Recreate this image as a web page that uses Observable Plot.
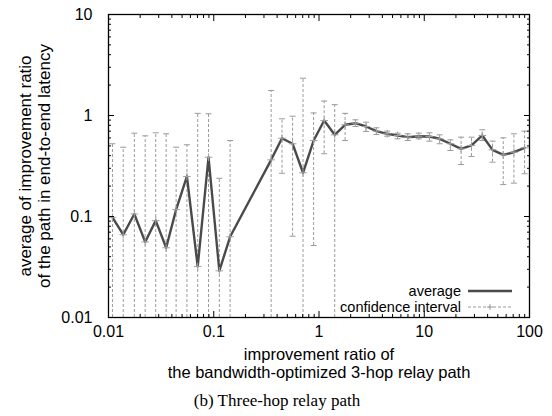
<!DOCTYPE html>
<html><head><meta charset="utf-8">
<script src="https://cdn.jsdelivr.net/npm/d3@7"></script>
<script src="https://cdn.jsdelivr.net/npm/@observablehq/plot@0.6"></script>
<style>
body{margin:0;background:#fff}
#wrap{position:relative;width:552px;height:416px}
#legend{position:absolute;left:280px;top:283px;width:233px;font-family:'Liberation Sans',Arial,sans-serif;font-size:14.5px;color:#000}
#legend .row{display:flex;align-items:center;justify-content:flex-end;height:16px;line-height:16px}
#legend svg{margin-left:6px}
</style>
</head><body><div id="wrap"></div>
<script>
// improvement ratio (bandwidth-optimized 3-hop relay path)
const ratio = [0.0109,0.0138,0.0176,0.0223,0.0281,0.0353,0.0439,0.0556,0.0704,0.0892,0.113,0.143,
  0.351,0.445,0.561,0.705,0.889,1.12,1.41,1.77,2.22,2.80,3.51,4.44,5.58,6.97,8.87,11.2,14.0,17.7,22.4,28.1,35.6,44.5,56.3,71.1,89.8];
// average improvement ratio in end-to-end latency
const average = [0.098,0.066,0.106,0.056,0.091,0.049,0.117,0.249,0.032,0.386,0.029,0.063,
  0.364,0.596,0.525,0.271,0.565,0.891,0.644,0.809,0.839,0.778,0.700,0.659,0.634,0.610,0.624,0.619,0.588,0.525,0.468,0.505,0.634,0.457,0.408,0.433,0.479];
// confidence interval upper / lower bounds (lower bounds at 0.01 run below the axis)
const ciHigh = [0.525,0.485,0.668,0.629,0.674,0.659,0.485,0.513,1.05,1.04,0.239,0.565,
  1.77,0.927,0.984,2.34,1.06,1.39,1.28,1.05,0.906,0.859,0.755,0.700,0.668,0.659,0.668,0.674,0.644,0.574,0.610,0.610,0.722,0.557,0.601,0.659,0.700];
const ciLow = [0.01,0.01,0.01,0.01,0.01,0.01,0.01,0.01,0.01,0.01,0.01,0.01,
  0.01,0.268,0.0638,0.01,0.0516,0.418,0.01,0.565,0.778,0.695,0.649,0.624,0.588,0.565,0.588,0.557,0.525,0.450,0.327,0.393,0.565,0.345,0.207,0.214,0.265];

const xTicks = [0.01, 0.1, 1, 10, 100];
const yTicks = [0.01, 0.1, 1, 10];
const xTitle = "improvement ratio of\nthe bandwidth-optimized 3-hop relay path";
const yTitle = "average of improvement ratio\nof the path in end-to-end latency";
const caption = "(b) Three-hop relay path";
const legendLabels = ["average", "confidence interval"];

const minorOf = (majors) => {
  const out = [];
  for (let i = 0; i < majors.length - 1; i++) for (let m = 2; m <= 9; m++) out.push(+(majors[i] * m).toPrecision(3));
  return out;
};
const xMinor = minorOf(xTicks), yMinor = minorOf(yTicks);

const data = ratio.map((x, i) => ({x, avg: average[i], hi: ciHigh[i], lo: ciLow[i]}));

const cap = {draw(ctx) { ctx.moveTo(-3, 0); ctx.lineTo(3, 0); }};
const font = "'Liberation Sans', Arial, sans-serif";
const blank = () => "";

const chart = Plot.plot({
  width: 552, height: 416,
  marginLeft: 108, marginRight: 23, marginTop: 14, marginBottom: 99,
  style: {fontFamily: font, fontSize: "16px", background: "white", color: "black", overflow: "visible"},
  x: {type: "log", domain: [0.01, 100]},
  y: {type: "log", domain: [0.01, 10]},
  marks: [
    Plot.ruleX(data, {x: "x", y1: "lo", y2: "hi", stroke: "#9a9a9a", strokeWidth: 1, strokeDasharray: "3,2"}),
    Plot.dot(data, {x: "x", y: "hi", symbol: cap, r: 3, stroke: "#9a9a9a", fill: "none", strokeWidth: 1}),
    Plot.dot(data, {x: "x", y: "lo", symbol: cap, r: 3, stroke: "#9a9a9a", fill: "none", strokeWidth: 1}),
    Plot.line(data, {x: "x", y: "avg", stroke: "#4a4a4a", strokeWidth: 2.4}),
    Plot.dot(data, {x: "x", y: "avg", symbol: "plus", r: 2.6, stroke: "#a0a0a0", strokeWidth: 1}),
    // ticks (inward, mirrored)
    Plot.axisX({anchor: "bottom", ticks: xTicks, tickSize: -6, tickFormat: blank, label: null}),
    Plot.axisX({anchor: "bottom", ticks: xMinor, tickSize: -3, tickFormat: blank, label: null}),
    Plot.axisX({anchor: "top", ticks: xTicks, tickSize: -6, tickFormat: blank, label: null}),
    Plot.axisX({anchor: "top", ticks: xMinor, tickSize: -3, tickFormat: blank, label: null}),
    Plot.axisY({anchor: "left", ticks: yTicks, tickSize: -6, tickFormat: blank, label: null}),
    Plot.axisY({anchor: "left", ticks: yMinor, tickSize: -3, tickFormat: blank, label: null}),
    Plot.axisY({anchor: "right", ticks: yTicks, tickSize: -6, tickFormat: blank, label: null}),
    Plot.axisY({anchor: "right", ticks: yMinor, tickSize: -3, tickFormat: blank, label: null}),
    // tick labels
    Plot.axisX({anchor: "bottom", ticks: xTicks, tickSize: 0, tickPadding: 8, tickFormat: d => String(d), label: null, fontSize: 16}),
    Plot.axisY({anchor: "left", ticks: yTicks, tickSize: 0, tickPadding: 16, tickFormat: d => String(d), label: null, fontSize: 16}),
    Plot.frame({stroke: "black", strokeWidth: 1.3}),
    // titles
    Plot.text([xTitle], {frameAnchor: "bottom", textAnchor: "middle", lineAnchor: "top", dy: 29, fontSize: 16.5, lineHeight: 1.12, fill: "black"}),
    Plot.text([yTitle], {frameAnchor: "left", textAnchor: "middle", rotate: -90, lineAnchor: "middle", dx: -74, fontSize: 17, lineHeight: 1.12, fill: "black"}),
    Plot.text([caption], {frameAnchor: "bottom", textAnchor: "middle", lineAnchor: "middle", dx: -42, dy: 83, fontSize: 17, fontFamily: "'Liberation Serif', 'Times New Roman', serif", fill: "black"})
  ]
});

const wrap = document.getElementById("wrap");
wrap.appendChild(chart);

const legend = document.createElement("div");
legend.id = "legend";
legend.innerHTML = `
<div class="row"><span>${legendLabels[0]}</span><svg width="46" height="10"><line x1="1" y1="5" x2="45" y2="5" stroke="#4a4a4a" stroke-width="2.4"/></svg></div>
<div class="row"><span>${legendLabels[1]}</span><svg width="46" height="10"><line x1="1" y1="5" x2="45" y2="5" stroke="#9a9a9a" stroke-width="1" stroke-dasharray="3,2"/><path d="M20,5H26M23,2V8" stroke="#a0a0a0" stroke-width="1"/></svg></div>`;
wrap.appendChild(legend);
</script>
</body></html>
